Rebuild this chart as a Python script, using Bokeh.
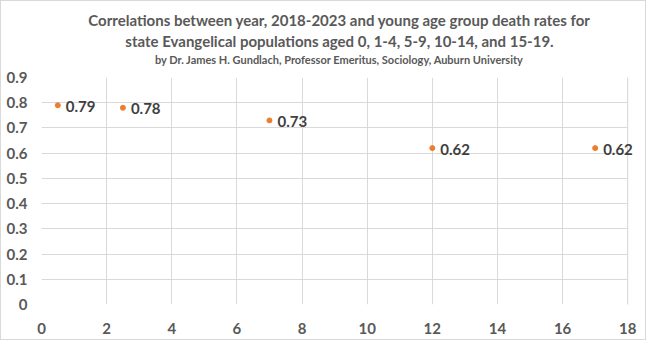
from bokeh.plotting import figure
from bokeh.models import Title, FixedTicker, CustomJSTickFormatter, ColumnDataSource, Range1d, LabelSet, BoxAnnotation, Span
from bokeh.core.properties import value
from bokeh.embed import file_html
from bokeh.resources import INLINE

x_vals = [0.5, 2.5, 7, 12, 17]
r_vals = [0.79, 0.78, 0.73, 0.62, 0.62]
r_labels = ["0.79", "0.78", "0.73", "0.62", "0.62"]
x_ticks = [0, 2, 4, 6, 8, 10, 12, 14, 16, 18]
y_ticks = [0, 0.1, 0.2, 0.3, 0.4, 0.5, 0.6, 0.7, 0.8, 0.9]

title1 = "Correlations between year, 2018-2023 and young age group death rates for"
title2 = "state Evangelical populations aged 0, 1-4, 5-9, 10-14, and 15-19."
subtitle = "by Dr. James H. Gundlach, Professor Emeritus, Sociology, Auburn University"

FONT = "Lato"
GRID = "#d9d9d9"
src = ColumnDataSource(dict(x=x_vals, y=r_vals, lab=r_labels))

p = figure(width=646, height=340, output_backend="svg", toolbar_location=None,
           x_range=Range1d(0, 18.3), y_range=Range1d(0, 0.9),
           min_border_left=40, min_border_right=10, min_border_bottom=37, min_border_top=76)
p.styles = {"border": "1px solid #d9d9d9"}
p.outline_line_color = None
p.background_fill_color = "white"
p.border_fill_color = "white"

p.add_layout(Title(text=" ", text_font_size="9px", standoff=0), "above")
p.add_layout(Title(text=subtitle, align="center", text_font=FONT, text_font_size="11px",
                   text_font_style="bold", text_color="#595959", standoff=0), "above")
p.add_layout(Title(text=title2, align="center", text_font=FONT, text_font_size="15px",
                   text_font_style="bold", text_color="#595959", standoff=2), "above")
p.add_layout(Title(text=title1, align="center", text_font=FONT, text_font_size="15px",
                   text_font_style="bold", text_color="#595959", standoff=0), "above")

p.scatter("x", "y", source=src, size=5, color="#ED7D31")
# white mask right of x=18 so the plot area ends at 18 while labels may overhang
p.add_layout(BoxAnnotation(left=18, fill_color="white", fill_alpha=1, line_color=None))
p.add_layout(Span(location=18, dimension="height", line_color=GRID, line_width=1))
p.add_layout(LabelSet(x="x", y="y", text="lab", source=src, x_offset=8, y_offset=-1,
                      text_baseline="middle", text_font=value(FONT), text_font_size="15px",
                      text_font_style="bold", text_color="#404040"))

p.xaxis.ticker = FixedTicker(ticks=x_ticks)
p.yaxis.ticker = FixedTicker(ticks=y_ticks)
p.yaxis.formatter = CustomJSTickFormatter(code="return tick.toFixed(1).replace(/\\.0$/, '')")
for ax in [p.xaxis[0], p.yaxis[0]]:
    ax.major_tick_line_color = None
    ax.minor_tick_line_color = None
    ax.axis_line_color = None
    ax.major_label_text_font = FONT
    ax.major_label_text_font_size = "15px"
    ax.major_label_text_font_style = "bold"
    ax.major_label_text_color = "#595959"
p.xaxis.major_label_standoff = 12
p.yaxis.major_label_standoff = 8
p.xgrid.grid_line_color = GRID
p.ygrid.grid_line_color = GRID

open("out.html", "w").write(file_html(p, INLINE))
